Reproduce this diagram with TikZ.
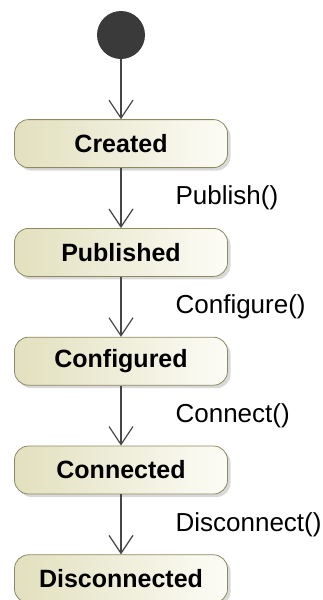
\documentclass[tikz,border=0pt]{standalone}
\usepackage{fontspec}
\setmainfont{Liberation Sans}
\usetikzlibrary{positioning,arrows.meta,shadows}
\definecolor{state edge}{RGB}{140,138,95}
\definecolor{state left}{RGB}{226,224,190}
\definecolor{state right}{RGB}{252,252,246}
\definecolor{line col}{RGB}{70,70,70}
\definecolor{start col}{RGB}{58,58,58}
\tikzset{statebox/.style={rectangle, rounded corners=14pt, draw=state edge, thick,
		left color=state left, right color=state right,
		minimum width=213pt, minimum height=48pt, inner sep=0pt,
		font=\fontsize{25}{30}\selectfont\bfseries,
		drop shadow={opacity=0.3, shadow xshift=3pt, shadow yshift=-3pt}},
	startnode/.style={circle, fill=start col, minimum size=48pt, inner sep=0pt},
	trans/.style={draw=line col, line width=1.2pt, -{Straight Barb[length=18pt,width=24pt]}},
	evt/.style={font=\fontsize{26}{30}\selectfont, inner sep=0pt}}

\begin{document}
\begin{tikzpicture}[node distance=60pt]
		\useasboundingbox (0,0) rectangle (323pt,-600pt);
		\node[startnode] (init) at (121pt,-35pt) {};
		\node[statebox, below=of init] (created) {Created};
		\node[statebox, below=of created] (published) {Published};
		\node[statebox, below=of published] (configured) {Configured};
		\node[statebox, below=of configured] (connected) {Connected};
		\node[statebox, below=of connected] (disconnected) {Disconnected};
		
		\draw[trans] (init) -- (created);
		\draw[trans] (created) -- (published) node[evt, midway, right=54pt] {Publish()};
		\draw[trans] (published) -- (configured) node[evt, midway, right=54pt] {Configure()};
		\draw[trans] (configured) -- (connected) node[evt, midway, right=54pt] {Connect()};
		\draw[trans] (connected) -- (disconnected) node[evt, midway, right=54pt] {Disconnect()};
\end{tikzpicture}
\end{document}
